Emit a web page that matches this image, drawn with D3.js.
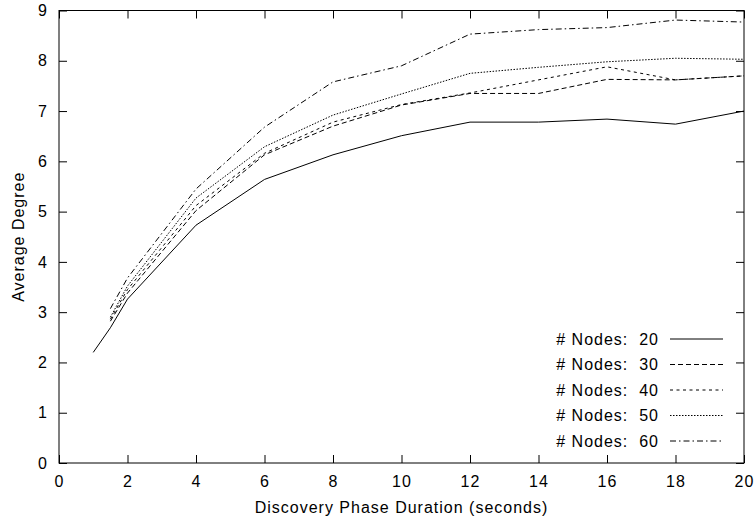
<!DOCTYPE html>
<html>
<head>
<meta charset="utf-8">
<script src="https://cdn.jsdelivr.net/npm/d3@7"></script>
<style>
  body { margin: 0; background: #fff; }
  svg text { font-family: "Liberation Sans", Arial, sans-serif; font-size: 16px; letter-spacing: 1px; fill: #000; white-space: pre; }
</style>
</head>
<body>
<svg width="756" height="519"></svg>
<script>
// data
var xTicks = [0, 2, 4, 6, 8, 10, 12, 14, 16, 18, 20];
var yTicks = [0, 1, 2, 3, 4, 5, 6, 7, 8, 9];

var time20 = [1, 1.5, 2, 4, 6, 8, 10, 12, 14, 16, 18, 20];
var time = [1.5, 2, 4, 6, 8, 10, 12, 14, 16, 18, 20];

var nodes20 = [2.2, 2.69, 3.26, 4.73, 5.64, 6.13, 6.51, 6.78, 6.78, 6.84, 6.74, 7.0];
var nodes30 = [2.82, 3.38, 5.02, 6.13, 6.70, 7.12, 7.35, 7.35, 7.63, 7.62, 7.70];
var nodes40 = [2.86, 3.45, 5.12, 6.16, 6.78, 7.13, 7.36, 7.62, 7.88, 7.62, 7.70];
var nodes50 = [2.9, 3.52, 5.27, 6.29, 6.92, 7.34, 7.75, 7.87, 7.98, 8.05, 8.03];
var nodes60 = [3.07, 3.68, 5.45, 6.68, 7.58, 7.9, 8.53, 8.62, 8.66, 8.81, 8.77];

var seriesNames = ["# Nodes:  20", "# Nodes:  30", "# Nodes:  40", "# Nodes:  50", "# Nodes:  60"];
var dashes = [null, "5,3", "3,3.5", "1.5,1.5", "6,3,1.5,3"];

var svg = d3.select("svg");
var plotL = 59, plotR = 744, plotT = 10.5, plotB = 463;

var x = d3.scaleLinear().domain([0, 20]).range([plotL, plotR]);
var y = d3.scaleLinear().domain([0, 9]).range([plotB, plotT]);

// frame
svg.append("rect")
  .attr("x", plotL).attr("y", plotT)
  .attr("width", plotR - plotL).attr("height", plotB - plotT)
  .attr("fill", "none").attr("stroke", "#000").attr("stroke-width", 1);

// axes, ticks pointing inward (mirrored on top/right)
var gx = svg.append("g")
  .attr("transform", "translate(0," + plotB + ")")
  .call(d3.axisBottom(x).tickValues(xTicks).tickSize(-8).tickPadding(13));
var gxt = svg.append("g")
  .attr("transform", "translate(0," + plotT + ")")
  .call(d3.axisTop(x).tickValues(xTicks).tickSize(-8).tickFormat(""));
var gy = svg.append("g")
  .attr("transform", "translate(" + plotL + ",0)")
  .call(d3.axisLeft(y).tickValues(yTicks).tickSize(-8).tickPadding(11));
var gyr = svg.append("g")
  .attr("transform", "translate(" + plotR + ",0)")
  .call(d3.axisRight(y).tickValues(yTicks).tickSize(-8).tickFormat(""));

[gx, gxt, gy, gyr].forEach(function(g) {
  g.select(".domain").remove();
  g.selectAll("line").attr("stroke", "#000");
  g.selectAll("text").attr("font-family", null).attr("font-size", null);
});

// axis titles
svg.append("text")
  .attr("x", (plotL + plotR) / 2)
  .attr("y", 513)
  .attr("text-anchor", "middle")
  .text("Discovery Phase Duration (seconds)");

svg.append("text")
  .attr("transform", "translate(24," + ((plotT + plotB) / 2) + ") rotate(-90)")
  .attr("text-anchor", "middle")
  .text("Average Degree");

// lines
var line = d3.line()
  .x(function(d) { return x(d[0]); })
  .y(function(d) { return y(d[1]); });

var allSeries = [
  d3.zip(time20, nodes20),
  d3.zip(time, nodes30),
  d3.zip(time, nodes40),
  d3.zip(time, nodes50),
  d3.zip(time, nodes60)
];

allSeries.forEach(function(s, i) {
  svg.append("path")
    .datum(s)
    .attr("fill", "none")
    .attr("stroke", "#000")
    .attr("stroke-width", 1)
    .attr("stroke-dasharray", dashes[i])
    .attr("d", line);
});

// legend
var legend = svg.append("g");
seriesNames.forEach(function(name, i) {
  var ly = 339 + i * 25.5;
  legend.append("text")
    .attr("x", 659)
    .attr("y", ly)
    .attr("dy", "0.36em")
    .attr("text-anchor", "end")
    .text(name);
  legend.append("line")
    .attr("x1", 670).attr("x2", 723)
    .attr("y1", ly).attr("y2", ly)
    .attr("stroke", "#000")
    .attr("stroke-width", 1)
    .attr("stroke-dasharray", dashes[i]);
});
</script>
</body>
</html>
